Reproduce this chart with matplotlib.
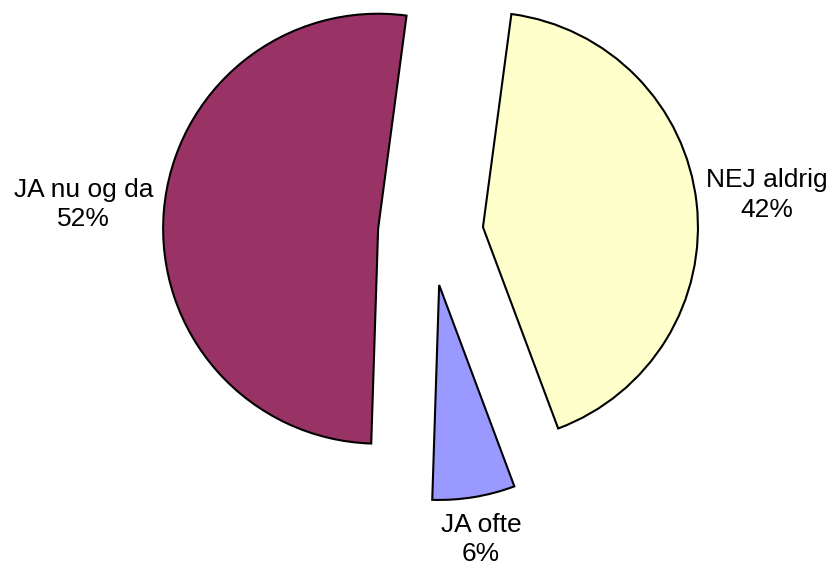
import numpy as np
import matplotlib.pyplot as plt

# data
labels = ['NEJ aldrig', 'JA ofte', 'JA nu og da']
values = [42.2, 6.2, 51.6]
colors = ['#FFFFCC', '#9999FF', '#993366']
label_dist = [1.33, 1.20, 1.375]

plt.rcParams['font.family'] = ['Liberation Sans', 'DejaVu Sans']

fig = plt.figure(figsize=(8.32, 5.72), dpi=100)
ax = fig.add_axes([0, 0, 1, 1])

explode = [0.245] * len(values)
wedges, _ = ax.pie(values, colors=colors, explode=explode, startangle=82.4,
                   counterclock=False, radius=1.0,
                   wedgeprops=dict(edgecolor='black', linewidth=1.5))

# place labels centred along each wedge bisector
for w, lab, v, d in zip(wedges, labels, values, label_dist):
    mid = np.deg2rad((w.theta1 + w.theta2) / 2)
    x = d * np.cos(mid) + w.center[0]
    y = d * np.sin(mid) + w.center[1]
    ax.text(x, y, '%s\n%.0f%%' % (lab, v), ha='center', va='center',
            fontsize=19, linespacing=1.3)

ax.set_xlim(-2.003, 1.867)
ax.set_ylim(-1.577, 1.084)
ax.set_aspect('auto')
ax.axis('off')

fig.savefig('out.png', dpi=100)
